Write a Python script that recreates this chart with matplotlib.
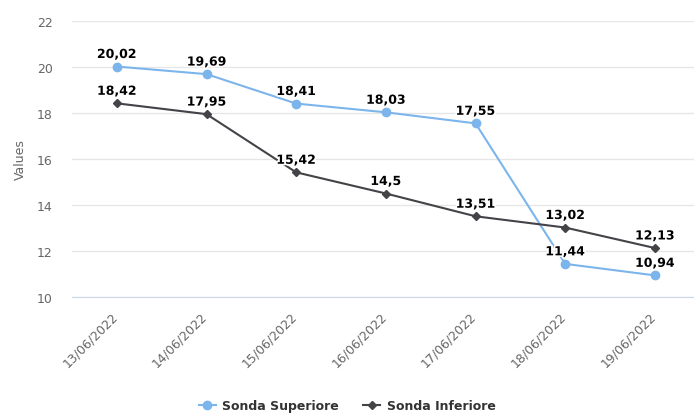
import matplotlib.pyplot as plt
from matplotlib import patheffects as pe
from matplotlib import transforms as mtrans

dates = ["13/06/2022", "14/06/2022", "15/06/2022", "16/06/2022",
         "17/06/2022", "18/06/2022", "19/06/2022"]
superiore = [20.02, 19.69, 18.41, 18.03, 17.55, 11.44, 10.94]
inferiore = [18.42, 17.95, 15.42, 14.5, 13.51, 13.02, 12.13]
y_ticks = [10, 12, 14, 16, 18, 20, 22]

fig = plt.figure(figsize=(6.94, 4.14), dpi=100)
ax = fig.add_axes([72 / 694, 1 - 298 / 414, 622 / 694, 276 / 414])

x = list(range(len(dates)))
ax.plot(x, superiore, color="#7cb5ec", lw=1.5, marker="o", ms=6,
        label="Sonda Superiore", zorder=3)
ax.plot(x, inferiore, color="#434348", lw=1.5, marker="D", ms=4.5,
        label="Sonda Inferiore", zorder=3)

outline = [pe.withStroke(linewidth=2.5, foreground="white")]
for series in (superiore, inferiore):
    for xi, v in zip(x, series):
        txt = f"{v:g}".replace(".", ",")
        ax.annotate(txt, (xi, v), xytext=(0, 4), textcoords="offset points",
                    ha="center", va="bottom", fontsize=9, fontweight="bold",
                    color="black", path_effects=outline, zorder=5)

ax.set_xlim(-0.5, -0.5 + 622 / 89.67)
ax.set_ylim(10, 22)
ax.set_yticks(y_ticks)
ax.set_xticks(x)
ax.set_xticklabels(dates, rotation=45, ha="right", rotation_mode="anchor")
ax.tick_params(axis="both", length=0, colors="#666666", labelsize=9)
ax.tick_params(axis="x", pad=9)
ax.tick_params(axis="y", pad=14)
shift = mtrans.ScaledTranslation(-6 / 100, 0, fig.dpi_scale_trans)
for lbl in ax.get_xticklabels():
    lbl.set_transform(lbl.get_transform() + shift)
ax.grid(axis="y", color="#e6e6e6", lw=1)
ax.set_axisbelow(True)
for s in ["top", "right", "left"]:
    ax.spines[s].set_visible(False)
ax.spines["bottom"].set_color("#ccd6eb")
ax.set_ylabel("Values", color="#666666", fontsize=9, labelpad=7)

fig.legend(loc="lower center", ncol=2, frameon=False,
           bbox_to_anchor=(0.5, -0.025), prop={"weight": "bold", "size": 9},
           labelcolor="#333333", handlelength=1.4, columnspacing=1.9,
           handletextpad=0.5)

plt.savefig("out.png", dpi=100)
